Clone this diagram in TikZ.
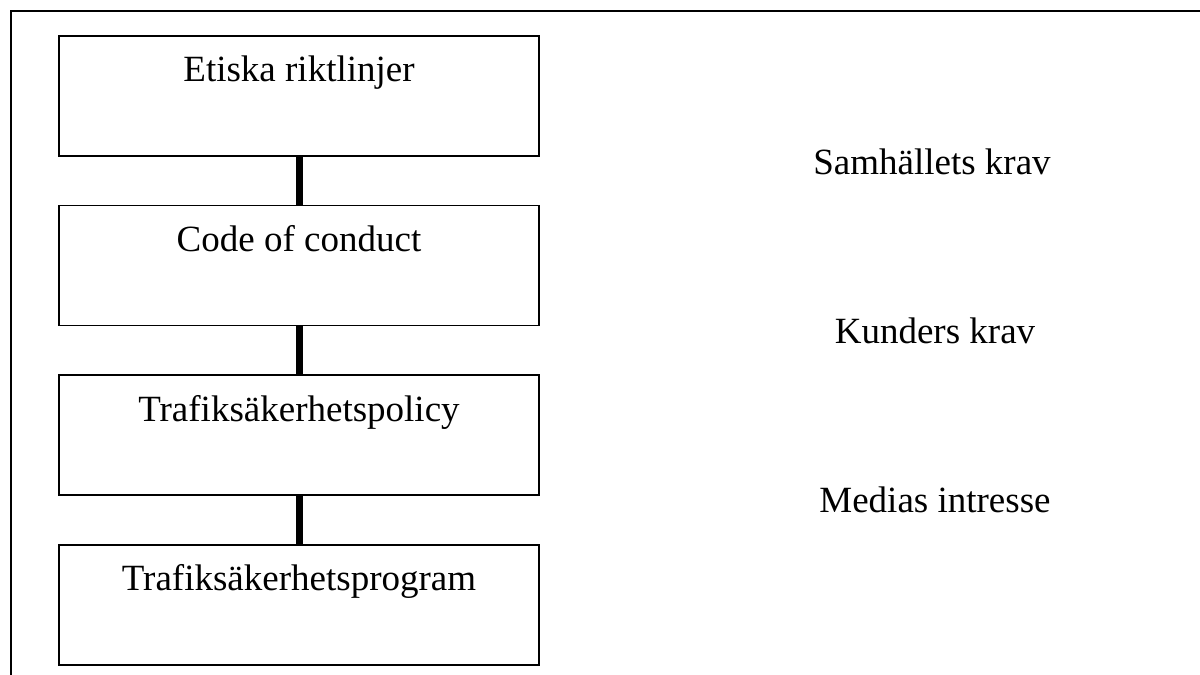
\documentclass[tikz,border=0pt]{standalone}
\usepackage{fontspec}
\setmainfont{Liberation Serif}
\usetikzlibrary{positioning}

\begin{document}
\begin{tikzpicture}[
  x=0.5pt, y=-0.5pt,
  node distance=24pt,
  box/.style={rectangle, draw=black, line width=0.85pt, inner sep=0pt,
              minimum width=240pt, text height=23pt, text depth=37pt,
              font=\fontsize{18.5}{22}\selectfont},
  link/.style={line width=3.5pt, draw=black},
  note/.style={anchor=base, inner sep=0pt, font=\fontsize{18.5}{22}\selectfont},
]
\useasboundingbox (0,0) rectangle (1200,675);

%% Outer frame, open to the right and at the bottom
\draw[line width=0.85pt] (11,675) -- (11,11) -- (1200,11);

%% Left column: the four levels
\node[box, anchor=north] (etik) at (299,35) {Etiska riktlinjer};
\node[box, below=of etik] (code)   {Code of conduct};
\node[box, below=of code] (policy) {Trafiksäkerhetspolicy};
\node[box, below=of policy] (prog) {Trafiksäkerhetsprogram};

%% Right column: outside pressure
\node[note] (samh)  at (932,174) {Samhällets krav};
\node[note] (kund)  at (935,343) {Kunders krav};
\node[note] (media) at (935,512) {Medias intresse};

%% Links between the levels
\draw[link] (etik)   -- (code);
\draw[link] (code)   -- (policy);
\draw[link] (policy) -- (prog);
\end{tikzpicture}
\end{document}
